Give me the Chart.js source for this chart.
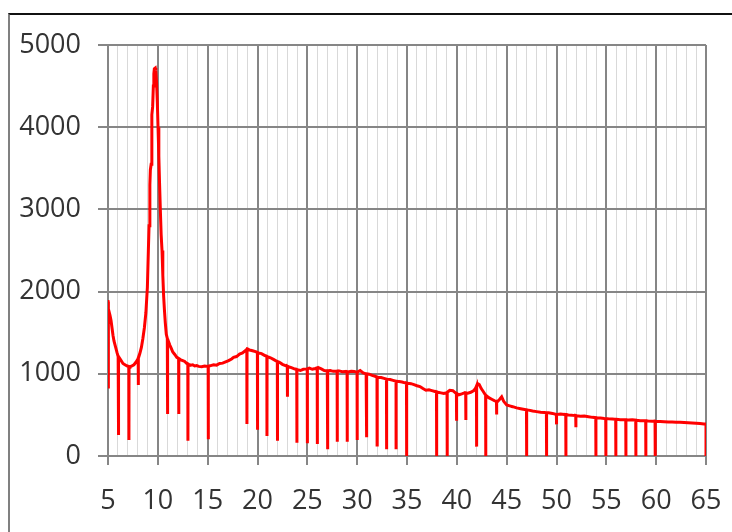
<!DOCTYPE html>
<html>
<head>
<meta charset="utf-8">
<script src="https://cdn.jsdelivr.net/npm/chart.js@4.4.0/dist/chart.umd.min.js"></script>
<style>
  html, body { margin: 0; padding: 0; background: #fff; }
  #wrap { position: relative; width: 732px; height: 532px; overflow: hidden; }
  #frame {
    position: absolute; left: 8px; top: 13px; width: 760px; height: 560px;
    border-top: 2px solid #111; border-left: 2px solid #808080;
  }
  canvas { position: absolute; left: 0; top: 0; }
</style>
</head>
<body>
<div id="wrap">
  <div id="frame"></div>
  <canvas id="xrd" width="732" height="532"></canvas>
</div>
<script>
// smooth pattern
const baseAngle = [
  5.0, 5.1, 5.2, 5.3, 5.4, 5.5, 5.6, 5.75, 5.9, 6.1, 6.3, 6.5, 6.7, 6.9, 7.2, 7.4, 7.6, 7.8,
  8.0, 8.2, 8.35, 8.5, 8.65, 8.8, 8.95, 9.05, 9.12, 9.2, 9.25, 9.33, 9.4, 9.48, 9.55, 9.6,
  9.65, 9.75, 9.8, 9.87, 9.95, 10.02, 10.1, 10.17, 10.25, 10.33, 10.42, 10.5, 10.58, 10.66,
  10.75, 10.85, 10.95, 11.05, 11.2, 11.35, 11.5, 11.7, 11.9, 12.1, 12.3, 12.5, 12.7, 12.9,
  13.1, 13.3, 13.5, 13.7, 13.9, 14.1, 14.4, 14.7, 15.0, 15.3, 15.6, 15.9, 16.2, 16.5, 16.8,
  17.1, 17.4, 17.6, 17.9, 18.2, 18.5, 18.8, 19.0, 19.2, 19.5, 19.8, 20.1, 20.4, 20.7, 21.0,
  21.3, 21.6, 21.9, 22.2, 22.5, 22.8, 23.1, 23.4, 23.7, 24.0, 24.3, 24.6, 24.9, 25.2, 25.5,
  25.8, 26.1, 26.4, 26.7, 27.0, 27.3, 27.6, 27.9, 28.2, 28.5, 28.8, 29.1, 29.4, 29.7, 30.0,
  30.3, 30.6, 30.9, 31.2, 31.5, 31.8, 32.1, 32.4, 32.7, 33.0, 33.3, 33.6, 33.9, 34.2, 34.5,
  34.8, 35.1, 35.4, 35.7, 36.0, 36.3, 36.6, 36.9, 37.2, 37.5, 37.8, 38.1, 38.4, 38.7, 39.0,
  39.3, 39.6, 39.9, 40.2, 40.5, 40.8, 41.1, 41.4, 41.7, 41.9, 42.1, 42.25, 42.45, 42.65, 42.9,
  43.2, 43.5, 43.8, 44.1, 44.3, 44.5, 44.7, 45.0, 45.3, 45.6, 46.0, 46.4, 46.8, 47.2, 47.6,
  48.0, 48.4, 48.8, 49.2, 49.6, 50.0, 50.4, 50.8, 51.2, 51.6, 52.0, 52.4, 52.8, 53.2, 53.6,
  54.0, 54.4, 54.8, 55.2, 55.6, 56.0, 56.4, 56.8, 57.2, 57.6, 58.0, 58.4, 58.8, 59.2, 59.6,
  60.0, 60.4, 60.8, 61.2, 61.6, 62.0, 62.4, 62.8, 63.2, 63.6, 64.0, 64.4, 64.8, 65.0
];
const baseCounts = [
  1880, 1790, 1710, 1650, 1560, 1470, 1400, 1330, 1260, 1210, 1165, 1125, 1110, 1095, 1085, 1095, 1110, 1140,
  1180, 1250, 1320, 1430, 1560, 1740, 2050, 2500, 2800, 3300, 3480, 3550, 4150, 4250, 4500, 4650,
  4710, 4720, 4690, 4550, 4300, 4000, 3650, 3330, 3000, 2700, 2500, 2200, 1950, 1780,
  1620, 1480, 1430, 1400, 1350, 1310, 1265, 1235, 1200, 1185, 1170, 1160, 1150, 1125,
  1115, 1105, 1110, 1095, 1100, 1090, 1085, 1095, 1090, 1100, 1110, 1105, 1125, 1130, 1145,
  1160, 1180, 1200, 1210, 1240, 1255, 1285, 1300, 1290, 1280, 1270, 1255, 1245, 1225, 1210,
  1195, 1175, 1155, 1140, 1115, 1100, 1085, 1075, 1060, 1050, 1040, 1055, 1060, 1070, 1055,
  1065, 1075, 1060, 1040, 1035, 1040, 1030, 1032, 1035, 1025, 1028, 1022, 1030, 1028, 1020,
  1040, 1010, 1000, 995, 980, 970, 958, 955, 945, 935, 930, 920, 910, 905, 900,
  890, 885, 880, 868, 855, 845, 820, 800, 805, 795, 785, 775, 768, 760, 770,
  800, 795, 765, 745, 755, 770, 765, 775, 795, 830, 880, 870, 820, 785, 740,
  710, 690, 670, 665, 690, 720, 665, 620, 610, 600, 585, 575, 565, 558, 548,
  540, 532, 528, 525, 518, 505, 512, 505, 500, 495, 490, 484, 486, 478, 470,
  466, 462, 456, 452, 450, 446, 442, 440, 438, 440, 436, 430, 428, 426, 424,
  420, 420, 418, 415, 414, 412, 412, 408, 405, 402, 398, 395, 390, 389
];

// narrow dropouts: position, lowest count, count around it
const dropAngle = [
  5.0, 6.03, 7.1, 8.04, 10.98, 12.1, 13.02, 15.06, 18.94, 20.0, 20.95, 22.0, 23.0, 23.95,
  25.0, 26.0, 27.04, 28.0, 29.0, 30.0, 30.95, 32.0, 32.95, 33.9, 34.96, 37.97, 39.03, 39.97,
  40.9, 41.98, 42.9, 43.99, 47.0, 49.0, 50.0, 50.94, 51.94, 53.95, 54.95, 55.95, 56.96,
  57.96, 58.96, 59.9, 65.0
];
const dropFloor = [
  820, 255, 195, 864, 511, 511, 186, 203, 389, 320, 243, 186, 722, 162,
  154, 146, 81, 174, 174, 195, 227, 134, 81, 81, 0, 0, 0, 430,
  438, 114, 0, 505, 0, 0, 385, 0, 350, 0, 0, 0, 0,
  0, 0, 0, 0
];
const dropLevel = [
  1880, 1210, 1088, 1190, 1425, 1185, 1120, 1092, 1295, 1260, 1212, 1150, 1092, 1052,
  1062, 1072, 1036, 1033, 1025, 1020, 1000, 960, 936, 910, 888, 780, 772, 762,
  768, 850, 740, 667, 562, 526, 505, 505, 492, 466, 455, 446, 440,
  436, 428, 422, 389
];

const xTicks = [5, 10, 15, 20, 25, 30, 35, 40, 45, 50, 55, 60, 65];
const yTicks = [0, 1000, 2000, 3000, 4000, 5000];

const pts = baseAngle.map((a, i) => ({ x: a, y: baseCounts[i] }));
dropAngle.forEach((a, i) => {
  pts.push({ x: a - 0.012, y: dropLevel[i] });
  pts.push({ x: a, y: dropFloor[i] });
  pts.push({ x: a + 0.012, y: dropLevel[i] });
});
pts.sort((p, q) => p.x - q.x);

const major = '#868686';
const minor = '#d9d9d9';
const isMajor = v => xTicks.includes(Math.round(v * 1000) / 1000);

new Chart(document.getElementById('xrd'), {
  type: 'line',
  data: {
    datasets: [{
      data: pts,
      borderColor: '#ff0000',
      borderWidth: 3,
      pointRadius: 0,
      tension: 0,
      fill: false
    }]
  },
  options: {
    responsive: false,
    animation: false,
    events: [],
    layout: { padding: { left: 0, top: 45, right: 26, bottom: 0 } },
    plugins: { legend: { display: false }, tooltip: { enabled: false } },
    scales: {
      x: {
        type: 'linear',
        min: 5,
        max: 65,
        afterFit: s => {
          s.height = 76;
          s.paddingLeft = 0;
          s.paddingRight = 0;
        },
        ticks: {
          stepSize: 1,
          autoSkip: false,
          maxRotation: 0,
          padding: 20,
          color: '#333',
          font: { family: 'Open Sans', size: 27 },
          callback: v => isMajor(v) ? String(v) : ''
        },
        grid: {
          color: c => isMajor(c.tick.value) ? major : minor,
          lineWidth: c => isMajor(c.tick.value) ? 2 : 1,
          tickColor: c => isMajor(c.tick.value) ? major : 'rgba(0,0,0,0)',
          tickLength: 9
        },
        border: { color: major, width: 2 }
      },
      y: {
        min: 0,
        max: 5000,
        afterFit: s => {
          s.width = 108;
          s.paddingTop = 0;
          s.paddingBottom = 0;
        },
        afterBuildTicks: s => { s.ticks = yTicks.map(v => ({ value: v })); },
        ticks: {
          padding: 17,
          color: '#333',
          font: { family: 'Open Sans', size: 27 },
          callback: v => String(v)
        },
        grid: { color: major, lineWidth: 2, tickLength: 10 },
        border: { color: major, width: 2 }
      }
    }
  }
});
</script>
</body>
</html>
